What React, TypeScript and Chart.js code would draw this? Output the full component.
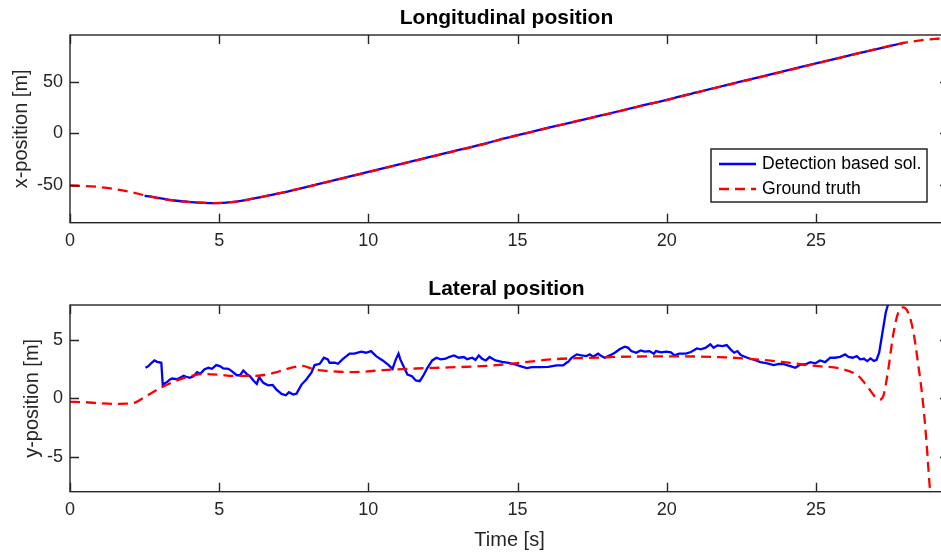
import React, { useEffect, useRef } from 'react';
import { Chart, registerables } from 'chart.js';
Chart.register(...registerables);

// ---------- data ----------
const gtTimeTop = [0, 1, 2, 2.5, 3, 3.5, 4, 4.8, 5.5, 6, 7, 8, 9, 10, 11, 12, 13, 14, 14.4, 15, 16, 17, 18, 19, 20, 21, 22, 23, 24, 25, 26, 27, 27.5, 28, 28.5, 29, 29.46];
const gtXPos = [-50.5, -52, -56.5, -60, -63, -65.2, -66.5, -67.5, -66.3, -64, -58, -51.5, -44.5, -37.5, -30.5, -23.5, -16.5, -9.5, -6.2, -2, 5, 12, 18.5, 25.5, 32.2, 39.5, 46.5, 53.5, 60.5, 67.5, 74.5, 81.5, 84.8, 87.8, 90, 91.5, 92.3];

const detTimeTop = [2.5, 3, 3.5, 4, 4.8, 5.5, 6, 7, 8, 9, 10, 11, 12, 13, 14, 14.4, 15, 16, 17, 18, 19, 20, 21, 22, 23, 24, 25, 26, 27, 27.5, 27.97];
const detXPos = [-60.2, -62.8, -65, -66.4, -67.6, -66.4, -64, -58.2, -51.3, -44.3, -37.3, -30.3, -23.3, -16.3, -9.3, -6, -1.8, 5.2, 11.8, 18.7, 25.7, 32.4, 39.7, 46.7, 53.7, 60.7, 67.7, 74.6, 81.4, 84.6, 87.8];

const gtTimeBottom = [0, 0.5, 1, 1.5, 2, 2.2, 2.5, 3, 3.5, 4, 4.5, 5, 5.5, 6, 6.5, 7, 7.5, 7.8, 8.1, 8.5, 9, 9.5, 10.5, 11.6, 12.7, 13.8, 14.9, 16, 16.7, 17.2, 18.4, 20, 21.7, 22.6, 23.4, 24, 25, 25.9, 26.4, 26.7, 27, 27.15, 27.27, 27.42, 27.6, 27.76, 27.92, 28.09, 28.26, 28.42, 28.59, 28.7, 28.81, 29, 29.46];
const gtYPos = [-0.3, -0.33, -0.42, -0.47, -0.45, -0.35, 0.1, 0.85, 1.45, 1.88, 2.08, 2.02, 1.92, 1.92, 2.0, 2.3, 2.68, 2.78, 2.55, 2.38, 2.28, 2.25, 2.42, 2.56, 2.65, 2.76, 2.99, 3.31, 3.42, 3.45, 3.56, 3.6, 3.54, 3.42, 3.25, 3.08, 2.78, 2.5, 1.96, 1.1, 0.1, -0.1, 0.3, 2.4, 5.6, 7.36, 7.8, 7.36, 5.78, 3.05, -0.4, -3.56, -7.44, -13, -25];

const detTimeBottom = [2.53, 2.62, 2.7, 2.83, 2.92, 3.06, 3.11, 3.18, 3.26, 3.34, 3.42, 3.59, 3.7, 3.81, 3.9, 4.01, 4.14, 4.26, 4.37, 4.5, 4.64, 4.76, 4.9, 5.02, 5.14, 5.31, 5.42, 5.59, 5.7, 5.81, 5.92, 6.03, 6.17, 6.26, 6.34, 6.48, 6.64, 6.79, 6.92, 7.09, 7.23, 7.34, 7.48, 7.59, 7.76, 7.92, 8.09, 8.2, 8.37, 8.51, 8.64, 8.7, 8.87, 8.98, 9.14, 9.37, 9.53, 9.76, 9.92, 10.09, 10.26, 10.48, 10.68, 10.81, 10.92, 11.01, 11.07, 11.2, 11.31, 11.46, 11.59, 11.72, 11.83, 11.98, 12.14, 12.28, 12.42, 12.59, 12.7, 12.87, 13.03, 13.2, 13.31, 13.48, 13.59, 13.7, 13.81, 13.94, 14.06, 14.26, 14.48, 14.7, 14.92, 15.09, 15.31, 15.48, 15.76, 16.03, 16.31, 16.53, 16.64, 16.7, 16.81, 16.98, 17.14, 17.31, 17.42, 17.53, 17.7, 17.81, 17.92, 18.09, 18.26, 18.42, 18.59, 18.7, 18.81, 18.98, 19.12, 19.26, 19.42, 19.57, 19.64, 19.81, 19.98, 20.14, 20.26, 20.42, 20.64, 20.81, 21.01, 21.14, 21.31, 21.46, 21.57, 21.7, 21.87, 22.01, 22.14, 22.26, 22.37, 22.48, 22.7, 22.92, 23.14, 23.37, 23.59, 23.76, 23.92, 24.14, 24.31, 24.48, 24.64, 24.81, 24.98, 25.14, 25.31, 25.48, 25.64, 25.81, 25.98, 26.09, 26.23, 26.37, 26.48, 26.61, 26.72, 26.83, 26.94, 27.03, 27.12, 27.23, 27.34, 27.42, 27.6, 27.97];
const detYPos = [2.62, 2.75, 2.96, 3.25, 3.13, 3.05, 1.12, 1.3, 1.41, 1.6, 1.7, 1.64, 1.78, 1.93, 1.85, 1.76, 1.9, 2.24, 2.1, 2.47, 2.62, 2.53, 2.85, 2.76, 2.56, 2.53, 2.33, 1.98, 1.98, 2.39, 2.1, 1.9, 1.47, 1.24, 1.81, 1.33, 1.12, 1.15, 0.75, 0.38, 0.26, 0.52, 0.32, 0.4, 1.18, 1.61, 2.19, 2.85, 2.96, 3.48, 3.34, 3.05, 3.05, 2.96, 3.36, 3.83, 3.83, 4.0, 3.91, 4.05, 3.62, 3.25, 2.85, 2.53, 3.34, 3.83, 3.34, 2.62, 2.04, 1.9, 1.53, 1.47, 1.9, 2.62, 3.25, 3.48, 3.34, 3.4, 3.54, 3.68, 3.48, 3.54, 3.36, 3.48, 3.3, 3.68, 3.4, 3.25, 3.54, 3.25, 3.13, 3.05, 2.9, 2.76, 2.59, 2.67, 2.67, 2.7, 2.82, 2.82, 3.05, 3.13, 3.48, 3.77, 3.68, 3.62, 3.77, 3.57, 3.83, 3.62, 3.48, 3.68, 3.91, 4.2, 4.43, 4.35, 4.05, 3.91, 4.11, 4.0, 4.05, 3.83, 4.05, 3.94, 4.0, 3.94, 3.68, 3.83, 3.83, 3.97, 4.28, 4.2, 4.34, 4.63, 4.34, 4.54, 4.48, 4.57, 4.2, 3.91, 4.05, 3.71, 3.48, 3.31, 3.1, 2.99, 2.85, 2.96, 2.93, 2.76, 2.62, 2.9, 2.9, 3.1, 3.0, 3.25, 3.1, 3.48, 3.48, 3.56, 3.77, 3.56, 3.48, 3.62, 3.34, 3.39, 3.19, 3.42, 3.2, 3.3, 3.91, 5.64, 7.36, 8.08, 11, 16];

const timeTicks = [0, 5, 10, 15, 20, 25];
const xPosTicks = [-50, 0, 50];
const yPosTicks = [-5, 0, 5];
const timeMin = 0;
const timeMax = 29.46;
const xPosMin = -86.5;
const xPosMax = 95.2;
const yPosMin = -8;
const yPosMax = 8;

const seriesLabels = ['Detection based sol.', 'Ground truth'];
const titles = ['Longitudinal position', 'Lateral position'];
const axisTitles = ['x-position [m]', 'y-position [m]', 'Time [s]'];

// ---------- styles ----------
const FONT = '"Liberation Sans", Arial, Helvetica, sans-serif';
const AXIS_COLOR = '#262626';
const BLUE = '#0000ff';
const RED = '#ff0000';
const DASH = [10, 6];
const LINE_W = 2.3;
const TICK_LEN = 9;

const zip = (xs: number[], ys: number[]) => xs.map((x, i) => ({ x, y: ys[i] }));

const framePlugin = {
  id: 'matlabFrame',
  afterDraw(chart: any, _args: any, opts: any) {
    const { ctx, chartArea: a, scales } = chart;
    const xs = scales.x;
    const ys = scales.y;
    ctx.save();
    ctx.strokeStyle = AXIS_COLOR;
    ctx.lineWidth = 1.4;
    ctx.beginPath();
    xs.ticks.forEach((t: any) => {
      const px = Math.round(xs.getPixelForValue(t.value)) + 0.5;
      ctx.moveTo(px, a.bottom);
      ctx.lineTo(px, a.bottom - TICK_LEN);
      ctx.moveTo(px, a.top);
      ctx.lineTo(px, a.top + TICK_LEN);
    });
    ys.ticks.forEach((t: any) => {
      const py = Math.round(ys.getPixelForValue(t.value)) + 0.5;
      ctx.moveTo(a.left, py);
      ctx.lineTo(a.left + TICK_LEN, py);
      ctx.moveTo(a.right, py);
      ctx.lineTo(a.right - TICK_LEN, py);
    });
    ctx.stroke();
    ctx.strokeRect(a.left, a.top, a.right - a.left, a.bottom - a.top);

    ctx.fillStyle = '#000';
    ctx.font = `bold 21px ${FONT}`;
    ctx.textAlign = 'center';
    ctx.textBaseline = 'middle';
    ctx.fillText(opts.title, (a.left + a.right) / 2 - 3, opts.titleY);

    if (opts.legend) {
      const L = opts.legend;
      ctx.fillStyle = '#fff';
      ctx.fillRect(L.x, L.y, L.w, L.h);
      ctx.strokeStyle = AXIS_COLOR;
      ctx.lineWidth = 1.5;
      ctx.strokeRect(L.x, L.y, L.w, L.h);
      const rows = [
        { label: seriesLabels[0], color: BLUE, dash: [] as number[] },
        { label: seriesLabels[1], color: RED, dash: DASH },
      ];
      rows.forEach((r, i) => {
        const y = L.y + L.rowTop + i * L.rowGap;
        ctx.beginPath();
        ctx.setLineDash(r.dash);
        ctx.strokeStyle = r.color;
        ctx.lineWidth = LINE_W;
        ctx.moveTo(L.x + 8, y);
        ctx.lineTo(L.x + 45, y);
        ctx.stroke();
        ctx.setLineDash([]);
        ctx.fillStyle = '#000';
        ctx.font = `17.6px ${FONT}`;
        ctx.textAlign = 'left';
        ctx.textBaseline = 'middle';
        ctx.fillText(r.label, L.x + 51, y);
      });
    }
    ctx.restore();
  },
};

function makeConfig(opts: {
  det: { x: number; y: number }[];
  gt: { x: number; y: number }[];
  yMin: number; yMax: number; yTicks: number[];
  yTitle: string; yTitlePad: number;
  xTitle?: string;
  xHeight: number;
  title: string; titleY: number;
  legend?: any;
  detTension: boolean;
}) {
  return {
    type: 'line' as const,
    data: {
      datasets: [
        {
          label: seriesLabels[1],
          data: opts.gt,
          borderColor: RED,
          borderWidth: LINE_W,
          borderDash: DASH,
          pointRadius: 0,
          cubicInterpolationMode: 'monotone' as const,
          order: 0,
        },
        {
          label: seriesLabels[0],
          data: opts.det,
          borderColor: BLUE,
          borderWidth: LINE_W,
          pointRadius: 0,
          cubicInterpolationMode: opts.detTension ? ('monotone' as const) : ('default' as const),
          tension: 0,
          order: 1,
        },
      ],
    },
    options: {
      animation: false as const,
      responsive: false,
      devicePixelRatio: 1,
      layout: { padding: { top: 35, left: 0, right: 0, bottom: 0 } },
      plugins: {
        legend: { display: false },
        tooltip: { enabled: false },
        matlabFrame: { title: opts.title, titleY: opts.titleY, legend: opts.legend },
      },
      scales: {
        x: {
          type: 'linear' as const,
          min: timeMin,
          max: timeMax,
          grid: { display: false, drawTicks: false },
          border: { display: false },
          afterBuildTicks: (s: any) => { s.ticks = timeTicks.map((v) => ({ value: v })); },
          afterFit: (s: any) => { s.height = opts.xHeight; },
          ticks: { color: AXIS_COLOR, padding: 8, maxRotation: 0, font: { family: FONT, size: 18 } },
          title: opts.xTitle
            ? { display: true, text: opts.xTitle, color: AXIS_COLOR, font: { family: FONT, size: 20 }, padding: { top: 0, bottom: 2 } }
            : { display: false },
        },
        y: {
          type: 'linear' as const,
          min: opts.yMin,
          max: opts.yMax,
          grid: { display: false, drawTicks: false },
          border: { display: false },
          afterBuildTicks: (s: any) => { s.ticks = opts.yTicks.map((v) => ({ value: v })); },
          afterFit: (s: any) => { s.width = 70; },
          ticks: { color: AXIS_COLOR, padding: 7, font: { family: FONT, size: 18 } },
          title: { display: true, text: opts.yTitle, color: AXIS_COLOR, font: { family: FONT, size: 20 }, padding: { top: opts.yTitlePad, bottom: 0 } },
        },
      },
    },
    plugins: [framePlugin],
  };
}

const CANVAS_W = 949;

export default function App() {
  const topRef = useRef<HTMLCanvasElement>(null);
  const botRef = useRef<HTMLCanvasElement>(null);

  useEffect(() => {
    const c1 = new Chart(topRef.current as HTMLCanvasElement, makeConfig({
      det: zip(detTimeTop, detXPos),
      gt: zip(gtTimeTop, gtXPos),
      yMin: xPosMin, yMax: xPosMax, yTicks: xPosTicks,
      yTitle: axisTitles[0], yTitlePad: 9,
      xHeight: 265 - 222.7,
      title: titles[0], titleY: 18,
      legend: { x: 711, y: 149, w: 216, h: 53, rowTop: 15, rowGap: 25 },
      detTension: true,
    }) as any);
    const c2 = new Chart(botRef.current as HTMLCanvasElement, makeConfig({
      det: zip(detTimeBottom, detYPos),
      gt: zip(gtTimeBottom, gtYPos),
      yMin: yPosMin, yMax: yPosMax, yTicks: yPosTicks,
      yTitle: axisTitles[1], yTitlePad: 20.5,
      xTitle: axisTitles[2],
      xHeight: 284 - 221.7,
      title: titles[1], titleY: 19,
      detTension: false,
    }) as any);
    return () => { c1.destroy(); c2.destroy(); };
  }, []);

  return (
    <div style={{ position: 'fixed', left: 0, top: 0, width: 941, height: 554, overflow: 'hidden', background: '#fff' }}>
      <canvas ref={topRef} width={CANVAS_W} height={265} style={{ position: 'absolute', left: 0, top: 0, width: CANVAS_W, height: 265 }} />
      <canvas ref={botRef} width={CANVAS_W} height={284} style={{ position: 'absolute', left: 0, top: 270, width: CANVAS_W, height: 284 }} />
    </div>
  );
}
